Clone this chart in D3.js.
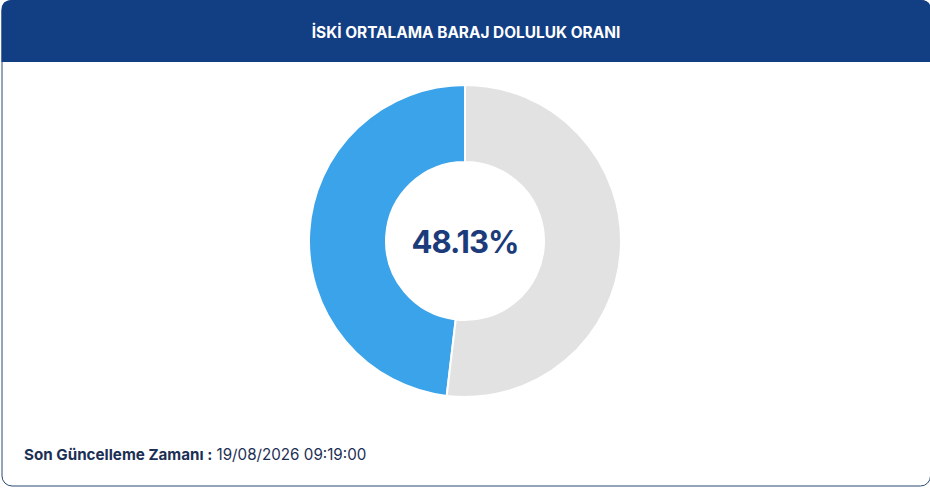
<!DOCTYPE html>
<html>
<head>
<meta charset="utf-8">
<script src="https://cdn.jsdelivr.net/npm/d3@7/dist/d3.min.js"></script>
<style>
html,body{margin:0;padding:0;background:#ffffff;}
svg{display:block;}
</style>
</head>
<body>
<svg id="chart" width="930" height="488"></svg>
<script>
const title = "İSKİ ORTALAMA BARAJ DOLULUK ORANI";
const categories = ["Dolu", "Boş"];
const values = [48.13, 51.87];
const colors = ["#3aa3e9", "#e2e2e2"];
const centerLabel = "48.13%";
const footerLabel = "Son Güncelleme Zamanı";
const footerValue = "19/08/2026 09:19:00";

const W = 930, H = 488;
const svg = d3.select("#chart");

// card
const cardX = 2, cardY = 0.5, cardW = 928.5, cardH = 485.5, r = 10, headerH = 62;
svg.append("rect")
  .attr("x", cardX).attr("y", cardY).attr("width", cardW).attr("height", cardH)
  .attr("rx", r).attr("ry", r)
  .attr("fill", "#ffffff").attr("stroke", "#2b4a73").attr("stroke-width", 1);

// header with rounded top corners
const hx = cardX - 0.5, hy = 0, hw = cardW + 1, hh = headerH;
svg.append("path")
  .attr("d", `M${hx},${hh} L${hx},${hy + r} Q${hx},${hy} ${hx + r},${hy} L${hx + hw - r},${hy} Q${hx + hw},${hy} ${hx + hw},${hy + r} L${hx + hw},${hh} Z`)
  .attr("fill", "#123e84");

svg.append("text")
  .attr("x", 466).attr("y", 38)
  .attr("text-anchor", "middle")
  .attr("fill", "#ffffff")
  .attr("font-family", "Inter, 'Noto Sans', sans-serif")
  .attr("font-weight", 700)
  .attr("font-size", 15.4)
  .text(title);

// donut
const cx = 465, cy = 241, outerR = 156, innerR = 79;
const pie = d3.pie().sort(null).startAngle(0).endAngle(-2 * Math.PI).value(d => d.v);
const arc = d3.arc().innerRadius(innerR).outerRadius(outerR);
const data = categories.map((c, i) => ({ c, v: values[i], color: colors[i] }));

const g = svg.append("g").attr("transform", `translate(${cx},${cy})`);
g.selectAll("path")
  .data(pie(data))
  .join("path")
  .attr("d", arc)
  .attr("fill", d => d.data.color)
  .attr("stroke", "#ffffff")
  .attr("stroke-width", 2);

g.append("text")
  .attr("x", 0).attr("y", 12)
  .attr("text-anchor", "middle")
  .attr("fill", "#1c3b7a")
  .attr("font-family", "Inter, 'Noto Sans', sans-serif")
  .attr("font-weight", 700)
  .attr("font-size", 31)
  .attr("letter-spacing", -1)
  .text(centerLabel);

// footer
const ft = svg.append("text")
  .attr("x", 24).attr("y", 460)
  .attr("fill", "#1c2f55")
  .attr("font-family", "Inter, 'Noto Sans', sans-serif")
  .attr("font-size", 15.2);
ft.append("tspan").attr("font-weight", 700).text(footerLabel + " :");
ft.append("tspan").attr("font-weight", 400).text(" " + footerValue);
</script>
</body>
</html>
